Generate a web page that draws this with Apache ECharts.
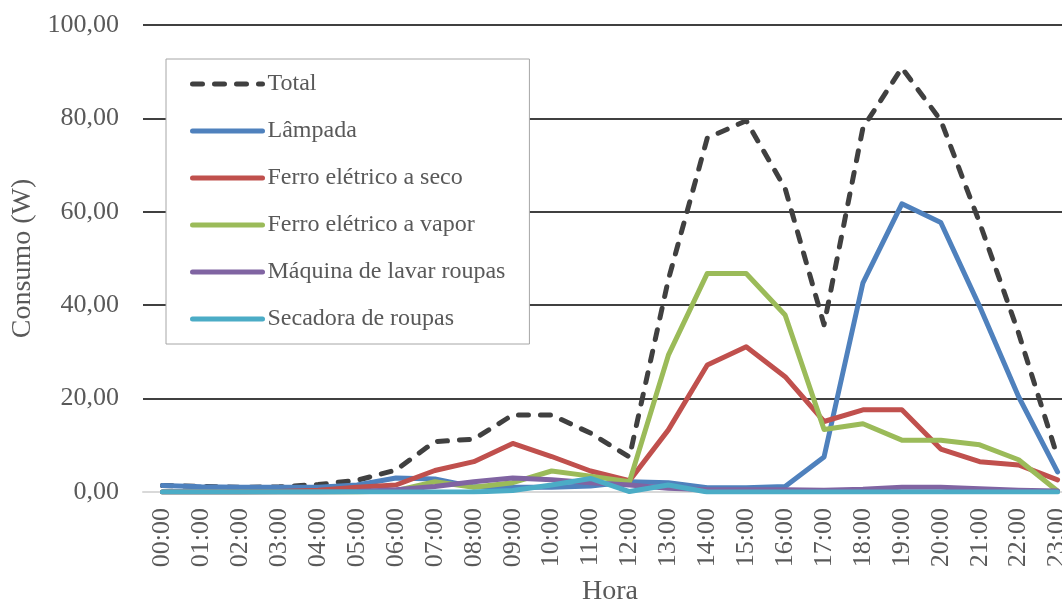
<!DOCTYPE html>
<html>
<head>
<meta charset="utf-8">
<title>Consumo por hora</title>
<script src="https://cdn.jsdelivr.net/npm/echarts@6/dist/echarts.min.js"></script>
<style>
  html, body { margin: 0; padding: 0; background: #fff; }
  #chart { width: 1062px; height: 608px; }
</style>
</head>
<body>
<div id="chart"></div>
<script>
// Hourly categories
const hours = ['00:00', '01:00', '02:00', '03:00', '04:00', '05:00', '06:00', '07:00',
  '08:00', '09:00', '10:00', '11:00', '12:00', '13:00', '14:00', '15:00',
  '16:00', '17:00', '18:00', '19:00', '20:00', '21:00', '22:00', '23:00'];

// Consumption per appliance (W)
const total      = [1.4, 1.2, 1.0, 1.1, 1.6, 2.5, 4.7, 10.8, 11.3, 16.5, 16.5, 12.6, 7.5, 45.5, 75.8, 79.5, 65.0, 35.8, 78.0, 90.8, 79.6, 57.6, 34.0, 7.5];
const lampada    = [1.4, 1.1, 1.0, 1.0, 1.0, 1.5, 3.0, 2.8, 1.1, 1.0, 1.0, 1.3, 2.2, 2.0, 0.9, 0.9, 1.2, 7.5, 44.8, 61.7, 57.7, 39.7, 20.4, 4.3];
const ferroSeco  = [0.0, 0.0, 0.0, 0.1, 0.4, 1.0, 1.5, 4.6, 6.5, 10.4, 7.6, 4.5, 2.4, 13.3, 27.2, 31.1, 24.7, 15.1, 17.6, 17.6, 9.2, 6.5, 5.8, 2.6];
const ferroVapor = [0.0, 0.0, 0.0, 0.0, 0.0, 0.0, 0.3, 2.2, 1.0, 2.0, 4.5, 3.4, 2.2, 29.3, 46.8, 46.8, 37.9, 13.4, 14.6, 11.1, 11.1, 10.1, 6.9, 0.2];
const maquina    = [0.0, 0.0, 0.0, 0.0, 0.0, 0.1, 0.5, 1.2, 2.2, 3.0, 2.6, 2.0, 1.5, 0.8, 0.5, 0.5, 0.5, 0.4, 0.6, 1.0, 1.0, 0.7, 0.4, 0.2];
const secadora   = [0.0, 0.0, 0.0, 0.0, 0.0, 0.0, 0.0, 0.0, 0.0, 0.3, 1.5, 2.9, 0.1, 1.5, 0.0, 0.0, 0.0, 0.0, 0.0, 0.0, 0.0, 0.0, 0.0, 0.0];

// Y axis scale
const yMin = 0, yMax = 100, yStep = 20;

const FONT = "'Liberation Serif', 'Times New Roman', serif";
const TEXT = '#595959';
const LINE_W = 5;

function lineSeries(name, data, color, dashed) {
  return {
    name: name,
    type: 'line',
    data: data,
    symbol: 'none',
    smooth: false,
    lineStyle: {
      color: color,
      width: LINE_W,
      type: dashed ? [10, 12] : 'solid',
      cap: 'round',
      join: 'round'
    },
    itemStyle: { color: color },
    emphasis: { disabled: true }
  };
}

const chart = echarts.init(document.getElementById('chart'), null, { renderer: 'canvas' });
chart.setOption({
  animation: false,
  backgroundColor: '#ffffff',
  grid: {
    left: 143, right: -15, top: 25, bottom: 116,
    containLabel: false,
    outerBoundsMode: 'none'
  },
  legend: {
    orient: 'vertical',
    left: 166,
    top: 59,
    padding: [13, 24, 13, 24],
    itemWidth: 70,
    itemHeight: 20,
    itemGap: 23,
    backgroundColor: '#ffffff',
    borderColor: '#a6a6a6',
    borderWidth: 1,
    itemStyle: { opacity: 0 },
    lineStyle: { width: LINE_W, cap: 'round' },
    textStyle: { fontFamily: FONT, fontSize: 24, color: TEXT },
    data: ['Total', 'Lâmpada', 'Ferro elétrico a seco', 'Ferro elétrico a vapor',
      'Máquina de lavar roupas', 'Secadora de roupas']
  },
  xAxis: {
    type: 'category',
    data: hours,
    boundaryGap: true,
    name: 'Hora',
    nameLocation: 'middle',
    nameGap: 86,
    nameTextStyle: { fontFamily: FONT, fontSize: 28, color: TEXT },
    axisLine: { show: true, lineStyle: { color: '#d9d9d9', width: 2 } },
    axisTick: { show: false },
    axisLabel: {
      rotate: 90,
      interval: 0,
      margin: 16,
      fontFamily: FONT,
      fontSize: 26,
      color: TEXT
    }
  },
  yAxis: {
    type: 'value',
    min: yMin,
    max: yMax,
    interval: yStep,
    name: 'Consumo (W)',
    nameLocation: 'middle',
    nameGap: 106,
    nameTextStyle: { fontFamily: FONT, fontSize: 28, color: TEXT },
    axisLine: { show: false },
    axisTick: { show: false },
    axisLabel: {
      margin: 24,
      fontFamily: FONT,
      fontSize: 26,
      color: TEXT,
      formatter: function (v) { return v.toFixed(2).replace('.', ','); }
    },
    splitLine: {
      show: true,
      lineStyle: { color: '#000000', width: 1.5 }
    }
  },
  series: [
    lineSeries('Total', total, '#404040', true),
    lineSeries('Lâmpada', lampada, '#4f81bd', false),
    lineSeries('Ferro elétrico a seco', ferroSeco, '#c0504d', false),
    lineSeries('Ferro elétrico a vapor', ferroVapor, '#9bbb59', false),
    lineSeries('Máquina de lavar roupas', maquina, '#8064a2', false),
    lineSeries('Secadora de roupas', secadora, '#4bacc6', false)
  ]
});
</script>
</body>
</html>
